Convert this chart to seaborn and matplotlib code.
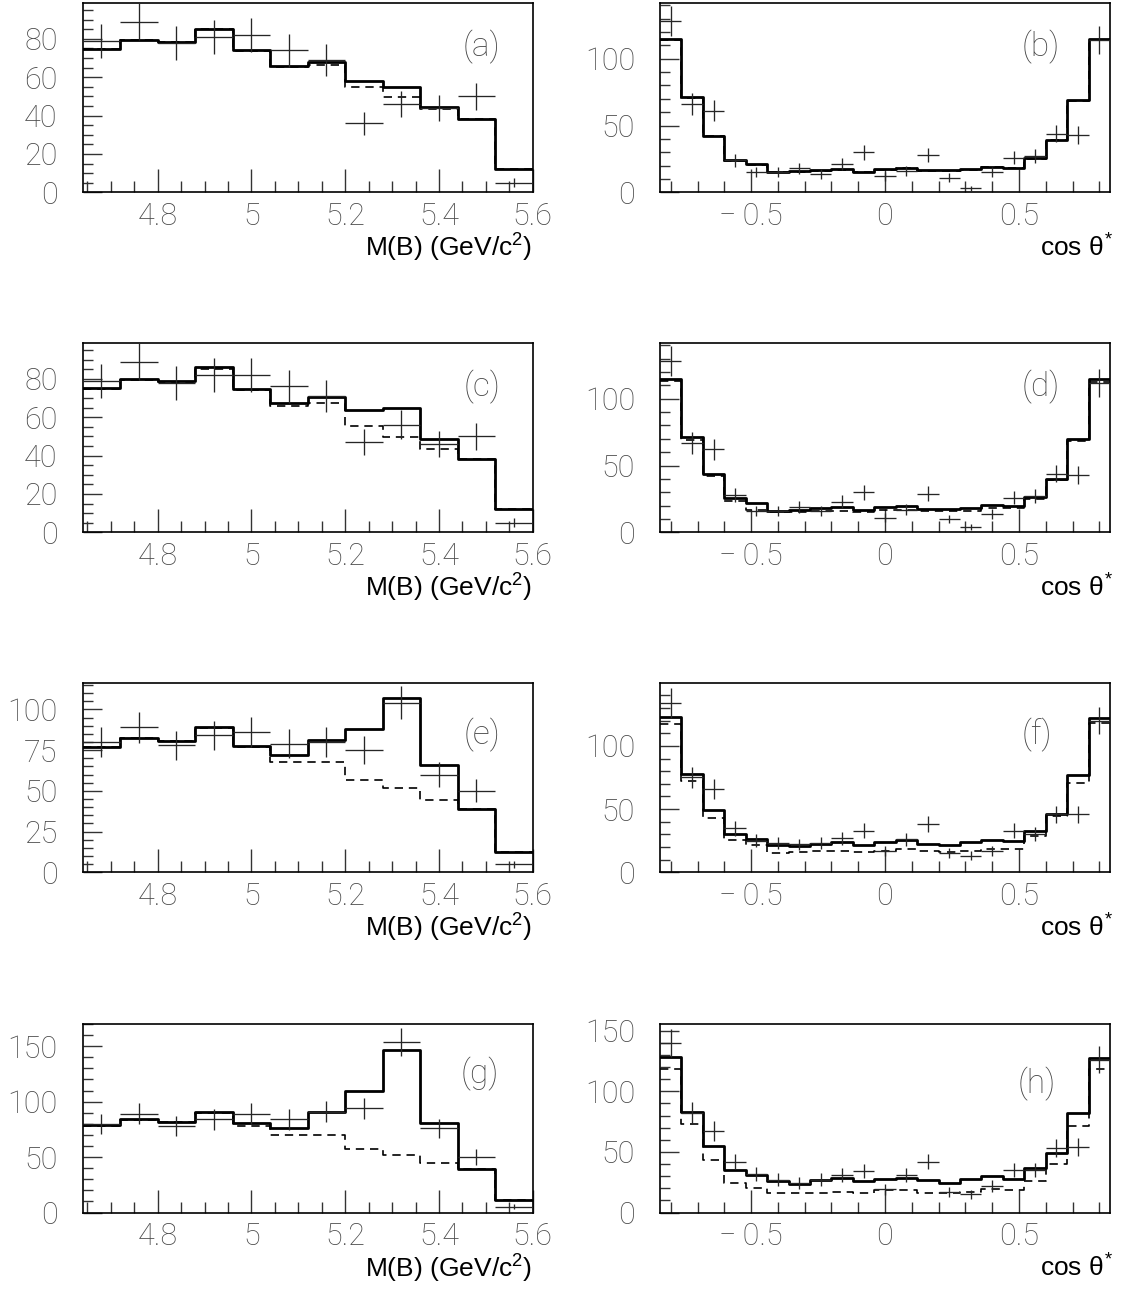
import numpy as np
import pandas as pd
import matplotlib
matplotlib.use("Agg")
import matplotlib.pyplot as plt
from matplotlib.ticker import FixedLocator
import seaborn as sns

# ---------------- data ----------------
mb_edges = np.round(np.arange(4.64, 5.6001, 0.08), 2)      # 12 bins, M(B)
cos_edges = np.round(np.arange(-0.84, 0.8401, 0.08), 2)    # 21 bins, cos theta*

# panel (a)
a_fit = [74.8, 79.5, 78.1, 85.2, 74.3, 65.9, 67.8, 58.1, 55.1, 44.7, 38.1, 12.0]
a_bkg = [74.8, 79.5, 78.1, 85.2, 73.9, 65.5, 66.4, 55.1, 49.6, 43.3, 38.1, 12.0]
a_data = [79, 89, 78, 81, 82, 74, 69, 36, 46, 44, 50, 5]
# panel (b)
b_fit = [114.8, 71.0, 42.5, 24.3, 21.0, 15.5, 16.0, 16.8, 17.3, 15.5, 17.5, 18.5,
         16.8, 16.8, 17.3, 19.3, 18.5, 25.5, 39.3, 69.3, 114.8]
b_bkg = [114.0, 70.3, 41.8, 23.8, 20.3, 15.0, 15.5, 16.3, 16.8, 15.0, 17.0, 18.0,
         16.3, 16.3, 16.8, 18.8, 18.0, 25.0, 38.8, 68.5, 114.0]
b_data = [128, 66, 61, 24, 15, 15, 18, 14, 21, 30, 12, 16, 28, 11, 3, 15, 26, 27, 44, 43, 114]
# panel (c)
c_fit = [75.1, 80.0, 78.6, 86.4, 74.8, 67.6, 70.4, 63.5, 65.0, 48.7, 38.3, 12.0]
c_bkg = [74.8, 79.5, 78.1, 85.2, 74.3, 65.9, 67.6, 55.5, 49.9, 43.5, 38.3, 12.0]
c_data = [79, 89, 78, 82, 82, 76, 71, 47, 56, 46, 50, 5]
# panel (d)
d_fit = [115.0, 71.3, 43.5, 25.5, 21.8, 16.3, 16.8, 18.0, 18.8, 16.8, 19.3, 19.8,
         17.5, 17.5, 18.5, 20.3, 19.8, 26.3, 39.8, 69.8, 114.8]
d_bkg = [113.0, 69.3, 41.8, 23.8, 16.8, 15.0, 15.5, 16.3, 16.3, 15.5, 16.8, 16.8,
         16.0, 16.0, 16.3, 18.0, 18.0, 24.8, 38.8, 68.0, 112.3]
d_data = [128, 67, 62, 28, 16, 16, 19, 16, 23, 30, 11, 17, 29, 10, 4, 14, 26, 27, 44, 43, 112]
# panel (e)
e_fit = [77.1, 82.2, 80.8, 89.0, 77.8, 72.0, 81.2, 88.0, 107.1, 65.9, 38.8, 12.2]
e_bkg = [77.1, 82.2, 80.8, 88.4, 76.7, 68.0, 68.0, 56.7, 51.6, 44.5, 38.8, 12.2]
e_data = [80, 89, 78, 84, 86, 79, 80, 75, 104, 60, 50, 5]
# panel (f)
f_fit = [123.2, 77.9, 49.5, 30.5, 26.3, 21.8, 21.1, 22.6, 23.9, 21.8, 23.7, 25.3,
         22.6, 21.8, 23.7, 25.3, 24.5, 32.4, 46.1, 77.1, 122.4]
f_bkg = [117.4, 72.4, 42.9, 25.3, 21.3, 15.3, 15.8, 16.6, 17.1, 16.1, 17.1, 18.7,
         17.1, 15.8, 16.6, 18.7, 18.7, 28.4, 44.2, 70.5, 118.4]
f_data = [134, 75, 66, 35, 25, 23, 22, 23, 27, 33, 17, 26, 38, 15, 13, 17, 33, 30, 46, 46, 120]
# panel (g)
g_fit = [78.8, 83.9, 81.8, 90.9, 80.3, 75.8, 90.9, 110.0, 146.4, 80.9, 38.8, 11.5]
g_bkg = [78.0, 83.3, 81.2, 89.4, 77.9, 69.8, 69.8, 57.6, 52.1, 44.5, 38.8, 11.5]
g_data = [80, 89, 78, 84, 89, 84, 91, 94, 154, 76, 50, 5]
# panel (h)
h_fit = [128.3, 83.0, 54.7, 34.9, 30.8, 25.8, 23.9, 27.2, 28.8, 25.8, 27.5, 28.6,
         26.6, 24.7, 27.5, 30.2, 28.0, 36.8, 49.2, 82.1, 127.5]
h_bkg = [118.7, 72.8, 43.1, 24.7, 20.6, 15.7, 16.2, 16.5, 17.0, 15.7, 18.4, 18.4,
         16.2, 15.7, 17.0, 19.2, 18.4, 25.8, 40.4, 71.4, 118.7]
h_data = [140, 82, 67, 42, 32, 27, 24, 27, 31, 34, 19, 31, 42, 17, 15, 22, 35, 35, 53, 54, 126]

mb_ticks = [4.8, 5.0, 5.2, 5.4, 5.6]
mb_ticklabels = ["4.8", "5", "5.2", "5.4", "5.6"]
cos_ticks = [-0.5, 0.0, 0.5]
cos_ticklabels = ["\u2212\u20090.5", "0", "0.5"]
mb_title = r"M(B) (GeV/c$^{2}$)"
cos_title = r"cos $\theta^{*}$"

# ---------------- style ----------------
sns.set_theme(style="white")
plt.rcParams["font.family"] = ["Roboto", "DejaVu Sans"]
plt.rcParams["font.weight"] = "light"
plt.rcParams["axes.unicode_minus"] = True
plt.rcParams["mathtext.fontset"] = "custom"
plt.rcParams["mathtext.rm"] = "Liberation Sans"
plt.rcParams["mathtext.it"] = "Liberation Sans"
plt.rcParams["mathtext.bf"] = "Liberation Sans:bold"

W, H = 1122, 1307
fig = plt.figure(figsize=(W / 100, H / 100), dpi=100)
fig.patch.set_facecolor("white")

PW, PH = 450, 189
col_left = [82.7, 660]
row_top = [3.3, 343.3, 683.3, 1023.5]

panels = [
    # col,row, kind, fit, bkg, data, ymax, ymaj, ymin, letter, (lx, ly)
    (0, 0, "mb", a_fit, a_bkg, a_data, 98.5, 20, 5, "(a)", (0.887, 0.767)),
    (1, 0, "cos", b_fit, b_bkg, b_data, 141.5, 50, 10, "(b)", (0.845, 0.767)),
    (0, 1, "mb", c_fit, c_bkg, c_data, 98.5, 20, 5, "(c)", (0.887, 0.767)),
    (1, 1, "cos", d_fit, d_bkg, d_data, 141.5, 50, 10, "(d)", (0.845, 0.767)),
    (0, 2, "mb", e_fit, e_bkg, e_data, 116.0, 25, 5, "(e)", (0.887, 0.725)),
    (1, 2, "cos", f_fit, f_bkg, f_data, 149.5, 50, 10, "(f)", (0.838, 0.725)),
    (0, 3, "mb", g_fit, g_bkg, g_data, 170.5, 50, 10, "(g)", (0.883, 0.735)),
    (1, 3, "cos", h_fit, h_bkg, h_data, 156.0, 50, 10, "(h)", (0.838, 0.683)),
]

tick_color = "#333333"
label_color = "#4a4a4a"

for col, row, kind, fit, bkg, data, ymax, ymaj, ymin, letter, lpos in panels:
    left = col_left[col]
    top = row_top[row]
    ax = fig.add_axes([left / W, 1 - (top + PH) / H, PW / W, PH / H])
    edges = mb_edges if kind == "mb" else cos_edges
    centers = (edges[:-1] + edges[1:]) / 2
    width = edges[1] - edges[0]

    df = pd.DataFrame({"x": centers, "fit": fit, "bkg": bkg,
                       "data": np.asarray(data, dtype=float)})

    sns.histplot(data=df, x="x", weights="bkg", bins=list(edges), element="step",
                 fill=False, color="black", linewidth=1.2, linestyle=(0, (5, 3.5)), ax=ax)
    sns.histplot(data=df, x="x", weights="fit", bins=list(edges), element="step",
                 fill=False, color="black", linewidth=2.0, ax=ax)
    ax.errorbar(df["x"], df["data"], xerr=width / 2, yerr=np.sqrt(df["data"]), fmt="none",
                ecolor="#262626", elinewidth=0.95, capsize=0, zorder=5)

    ax.set_xlim(edges[0], edges[-1])
    ax.set_ylim(0, ymax)
    ax.set_xlabel("")
    ax.set_ylabel("")

    if kind == "mb":
        ax.set_xticks(mb_ticks)
        ax.set_xticklabels(mb_ticklabels)
        minor_x = [v for v in np.round(np.arange(4.65, 5.6, 0.05), 2) if v not in mb_ticks]
        title = mb_title
        tx = 0.998
    else:
        ax.set_xticks(cos_ticks)
        ax.set_xticklabels(cos_ticklabels)
        minor_x = [v for v in np.round(np.arange(-0.8, 0.81, 0.1), 2) if v not in cos_ticks]
        title = cos_title
        tx = 1.008
    ax.xaxis.set_minor_locator(FixedLocator(minor_x))

    yt = np.arange(0, ymax + 0.01, ymaj)
    ax.set_yticks(yt)
    ax.set_yticklabels([str(int(v)) for v in yt])
    ymn = [v for v in np.arange(0, ymax, ymin) if v % ymaj != 0]
    ax.yaxis.set_minor_locator(FixedLocator(ymn))

    ax.tick_params(axis="x", which="major", direction="in", length=16.5, width=1.0,
                   color=tick_color, pad=7, labelsize=22, labelcolor=label_color)
    ax.tick_params(axis="x", which="minor", direction="in", length=8, width=1.0,
                   color=tick_color)
    ax.tick_params(axis="y", which="major", direction="in", length=14, width=1.0,
                   color=tick_color, pad=18, labelsize=22, labelcolor=label_color)
    ax.tick_params(axis="y", which="minor", direction="in", length=7, width=1.0,
                   color=tick_color)
    ax.tick_params(bottom=True, left=True, top=False, right=False, which="both")

    for sp in ax.spines.values():
        sp.set_visible(True)
        sp.set_color("black")
        sp.set_linewidth(1.2)

    ax.text(lpos[0], lpos[1], letter, transform=ax.transAxes, ha="center", va="center",
            fontsize=24, color=label_color, fontweight="light")
    ax.text(tx, -0.296, title, transform=ax.transAxes, ha="right", va="center",
            fontsize=19, color="black", fontweight="normal",
            family=["Liberation Sans Narrow", "Liberation Sans", "DejaVu Sans"])

fig.savefig("out.png", dpi=100, facecolor="white")
